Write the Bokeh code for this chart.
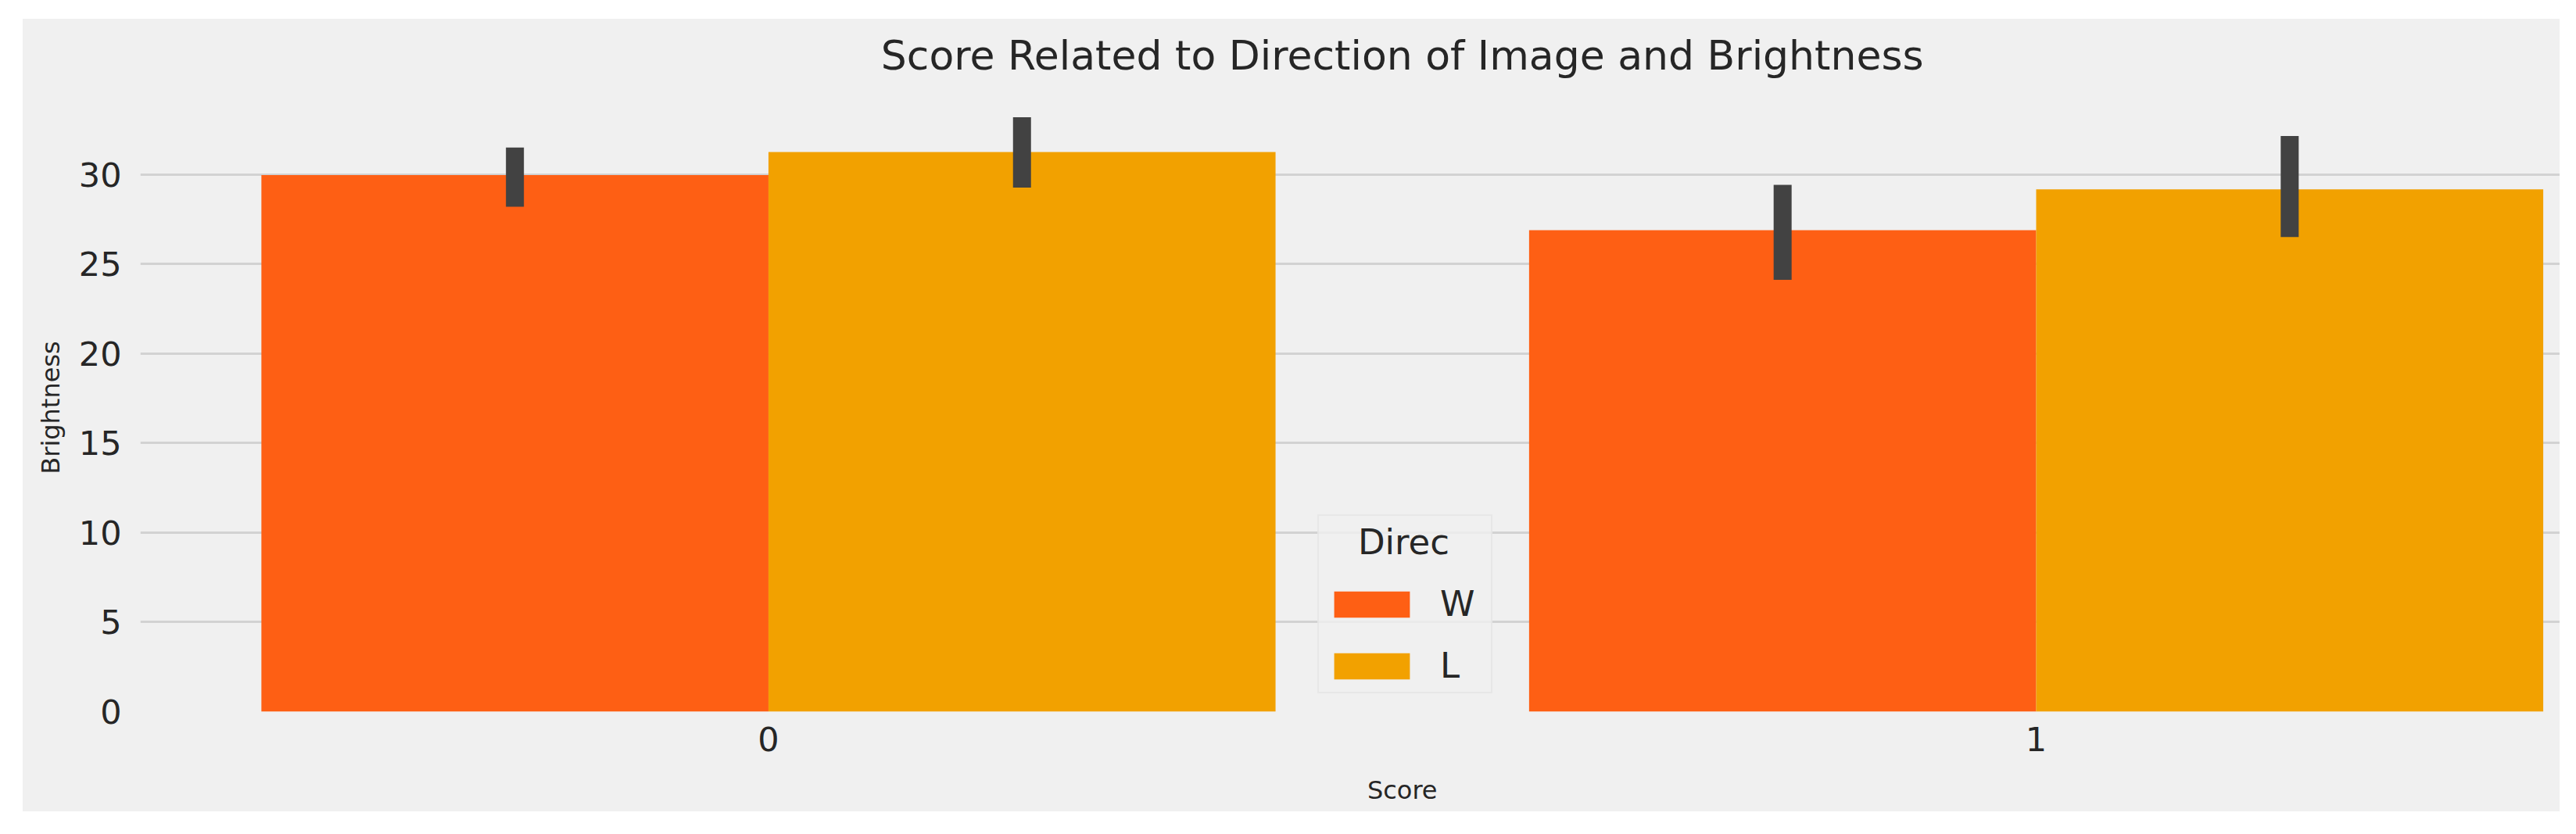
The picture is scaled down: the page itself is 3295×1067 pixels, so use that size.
from bokeh.plotting import figure
from bokeh.models import (ColumnDataSource, Range1d, FixedTicker, Legend, LegendItem,
                          Label, Spacer)
from bokeh.layouts import row, column
from bokeh.transform import dodge
from bokeh.embed import file_html
from bokeh.resources import INLINE

# ---- data ----
scores = ["0", "1"]
score_pos = [0, 1]
directions = ["W", "L"]
brightness_W = [29.96, 26.88]
brightness_L = [31.24, 29.16]
ci_low_W = [28.19, 24.11]
ci_high_W = [31.49, 29.41]
ci_low_L = [29.26, 26.50]
ci_high_L = [33.19, 32.14]
y_ticks = [0, 5, 10, 15, 20, 25, 30]
colors = ["#FE5F14", "#F2A100"]

title_text = "Score Related to Direction of Image and Brightness"
x_label = "Score"
y_label = "Brightness"
legend_title = "Direc"

FONT = "DejaVu Sans"
TXT = "#262626"
BG = "#F0F0F0"
W_FIG = 3245
TOP_H, MAIN_H, BOT_H = 108, 852, 54

src = ColumnDataSource(dict(
    x=score_pos, W=brightness_W, L=brightness_L,
    W_lo=ci_low_W, W_hi=ci_high_W, L_lo=ci_low_L, L_hi=ci_high_L,
))

x_range = Range1d(-0.4955, 1.4132)

p = figure(width=W_FIG, height=MAIN_H,
           x_range=x_range, y_range=Range1d(0, 33.95),
           output_backend="svg", toolbar_location=None, title=None,
           min_border_left=150, min_border_right=0,
           min_border_top=0, min_border_bottom=74,
           background_fill_color=BG, border_fill_color=BG,
           outline_line_color=None)

rW = p.vbar(x=dodge("x", -0.2), top="W", bottom=0, width=0.4, source=src,
            fill_color=colors[0], line_color=None)
rL = p.vbar(x=dodge("x", 0.2), top="L", bottom=0, width=0.4, source=src,
            fill_color=colors[1], line_color=None)

p.segment(x0=dodge("x", -0.2), y0="W_lo", x1=dodge("x", -0.2), y1="W_hi",
          source=src, line_width=23, line_color="#424242", line_cap="butt")
p.segment(x0=dodge("x", 0.2), y0="L_lo", x1=dodge("x", 0.2), y1="L_hi",
          source=src, line_width=23, line_color="#424242", line_cap="butt")

# grid
p.xgrid.visible = False
p.ygrid.ticker = FixedTicker(ticks=y_ticks)
p.ygrid.grid_line_color = "#D2D2D2"
p.ygrid.grid_line_width = 3

# axes
for ax in (p.xaxis[0], p.yaxis[0]):
    ax.axis_line_color = None
    ax.major_tick_line_color = None
    ax.minor_tick_line_color = None
    ax.major_tick_out = 0
    ax.major_tick_in = 0
    ax.minor_tick_out = 0
    ax.major_label_text_font = FONT
    ax.major_label_text_font_size = "43px"
    ax.major_label_text_color = TXT

p.yaxis.ticker = FixedTicker(ticks=y_ticks)
p.yaxis.major_label_standoff = 24
p.yaxis.axis_label = y_label
p.yaxis.axis_label_text_font = FONT
p.yaxis.axis_label_text_font_size = "32px"
p.yaxis.axis_label_text_font_style = "normal"
p.yaxis.axis_label_text_color = TXT
p.yaxis.axis_label_standoff = 14

p.xaxis.ticker = FixedTicker(ticks=score_pos)
p.xaxis.major_label_overrides = {pos: s for pos, s in zip(score_pos, scores)}
p.xaxis.major_label_standoff = 19

legend = Legend(
    items=[LegendItem(label=directions[0], renderers=[rW]),
           LegendItem(label=directions[1], renderers=[rL])],
    title="\u00a0\u00a0\u00a0" + legend_title,
    location=(1506, 23), margin=0, padding=7, spacing=26,
    glyph_width=121, glyph_height=42, label_standoff=27, label_width=58,
    title_standoff=26,
    label_text_font=FONT, label_text_font_size="45px", label_text_color=TXT,
    title_text_font=FONT, title_text_font_size="45px", title_text_color=TXT,
    title_text_font_style="normal",
    background_fill_color=BG, background_fill_alpha=0.8,
    border_line_color="#DDDDDD", border_line_width=2,
)
p.add_layout(legend)


def strip(height):
    s = figure(width=W_FIG, height=height, x_range=x_range,
               y_range=Range1d(0, height), output_backend="svg",
               toolbar_location=None, title=None,
               x_axis_location=None, y_axis_location=None,
               min_border=0, min_border_left=150, min_border_right=0,
               min_border_top=0, min_border_bottom=0,
               background_fill_color=BG, border_fill_color=BG,
               outline_line_color=None)
    s.grid.visible = False
    return s


# title strip (title centred on the original, wider axes)
top = strip(TOP_H)
top.add_layout(Label(x=0.5, y=62, text=title_text, text_align="center",
                     text_baseline="middle", text_font=FONT,
                     text_font_size="52px", text_color=TXT))

# x-axis label strip
bot = strip(BOT_H)
bot.add_layout(Label(x=0.5, y=28, text=x_label, text_align="center",
                     text_baseline="middle", text_font=FONT,
                     text_font_size="32px", text_color=TXT))

# white page margin around the grey figure, as in the original
chart = column(top, p, bot, styles={"background-color": BG})
layout = row(Spacer(width=29), column(Spacer(height=24), chart))

open("out.html", "w").write(file_html(layout, INLINE))
